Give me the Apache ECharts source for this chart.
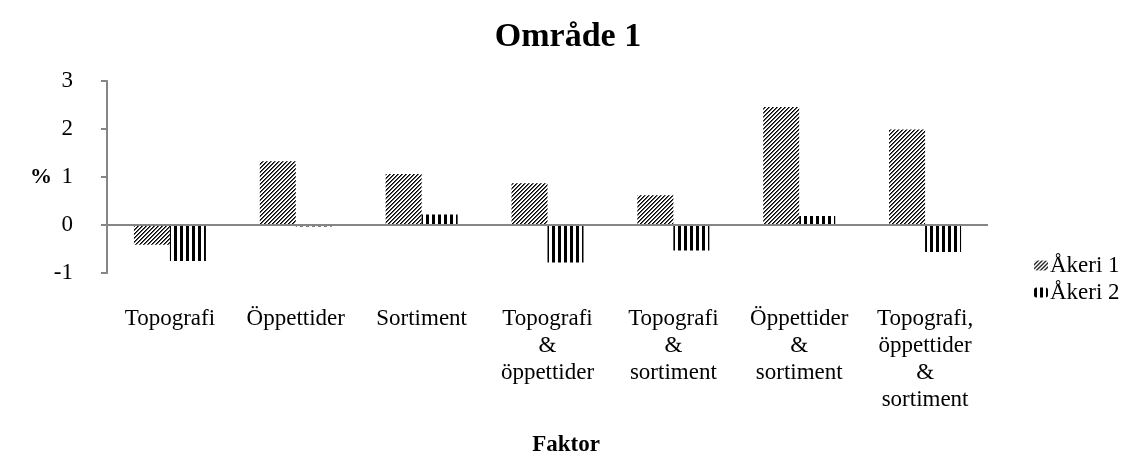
<!DOCTYPE html>
<html>
<head>
<meta charset="utf-8">
<script src="https://cdn.jsdelivr.net/npm/echarts@6/dist/echarts.min.js"></script>
<style>
  html, body { margin: 0; padding: 0; background: #fff; }
  #chart { width: 1136px; height: 466px; }
</style>
</head>
<body>
<div id="chart"></div>
<script>
var categories = ['Topografi', 'Öppettider', 'Sortiment', 'Topografi\n&\nöppettider',
    'Topografi\n&\nsortiment', 'Öppettider\n&\nsortiment', 'Topografi,\nöppettider\n&\nsortiment'];
var akeri1 = [-0.41, 1.33, 1.06, 0.87, 0.62, 2.46, 1.99];
var akeri2 = [-0.75, -0.03, 0.22, -0.78, -0.53, 0.19, -0.56];
var yTicks = [-1, 0, 1, 2, 3];

// hatch patterns like the excel fills
function diagonal(){
    var c = document.createElement('canvas');
    c.width = 4; c.height = 4;
    var ctx = c.getContext('2d');
    ctx.fillStyle = '#fff';
    ctx.fillRect(0, 0, 4, 4);
    for (var x = 0; x < 4; x++) {
        for (var y = 0; y < 4; y++) {
            var k = (x + y) % 4;
            if (k === 3) { ctx.fillStyle = '#000'; ctx.fillRect(x, y, 1, 1); }
            if (k === 0) { ctx.fillStyle = '#555'; ctx.fillRect(x, y, 1, 1); }
        }
    }
    return c;
}
function vertical(){
    var c = document.createElement('canvas');
    c.width = 6; c.height = 2;
    var ctx = c.getContext('2d');
    ctx.fillStyle = '#fff';
    ctx.fillRect(0, 0, 6, 2);
    ctx.fillStyle = '#000';
    ctx.fillRect(0, 0, 3, 2);
    return c;
}

var font = 'Liberation Serif';
var fs = 23;
var chart = echarts.init(document.getElementById('chart'));
chart.setOption({
    animation: false,
    textStyle: { fontFamily: font, color: '#000' },
    title: [
        { text: 'Område 1', left: 'center', top: 15,
          textStyle: { fontFamily: font, fontSize: 34, fontWeight: 'bold', color: '#000' } },
        { text: 'Faktor', left: 561, top: 429, textAlign: 'center',
          textStyle: { fontFamily: font, fontSize: fs, fontWeight: 'bold', color: '#000' } }
    ],
    legend: {
        orient: 'vertical',
        left: 1029,
        top: 249,
        itemWidth: 14,
        itemHeight: 10,
        itemGap: 4,
        textStyle: { fontFamily: font, fontSize: fs, color: '#000', padding: [0, 0, 0, -3] },
        data: ['Åkeri 1', 'Åkeri 2']
    },
    grid: { left: 107, right: 148, top: 81, bottom: 193 },
    xAxis: {
        type: 'category',
        data: categories,
        axisLine: { show: false },
        axisTick: { show: false },
        axisLabel: { fontFamily: font, fontSize: fs, color: '#000', margin: 32,
            lineHeight: 27, interval: 0 }
    },
    yAxis: {
        type: 'value',
        min: yTicks[0],
        max: yTicks[yTicks.length - 1],
        interval: 1,
        name: '%',
        nameLocation: 'middle',
        nameRotate: 0,
        nameGap: 55,
        nameMoveOverlap: false,
        nameTextStyle: { fontFamily: font, fontSize: 22, fontWeight: 'bold', color: '#000' },
        axisLine: { show: true, lineStyle: { color: '#868686', width: 2 } },
        axisTick: { show: true, inside: false, length: 6, lineStyle: { color: '#868686', width: 2 } },
        axisLabel: { fontFamily: font, fontSize: fs, color: '#000', margin: 34 },
        splitLine: { show: false }
    },
    series: [{
        name: 'Åkeri 1',
        type: 'bar',
        data: akeri1,
        barWidth: 36,
        barGap: '0%',
        itemStyle: { color: { image: diagonal(), repeat: 'repeat' } },
        // zero line across the plot, like the excel horizontal axis
        markLine: {
            silent: true,
            symbol: 'none',
            label: { show: false },
            lineStyle: { color: '#868686', width: 2, type: 'solid' },
            data: [{ yAxis: 0 }]
        }
    }, {
        name: 'Åkeri 2',
        type: 'bar',
        data: akeri2,
        barWidth: 36,
        barGap: '0%',
        itemStyle: { color: { image: vertical(), repeat: 'repeat' } }
    }]
});
</script>
</body>
</html>
